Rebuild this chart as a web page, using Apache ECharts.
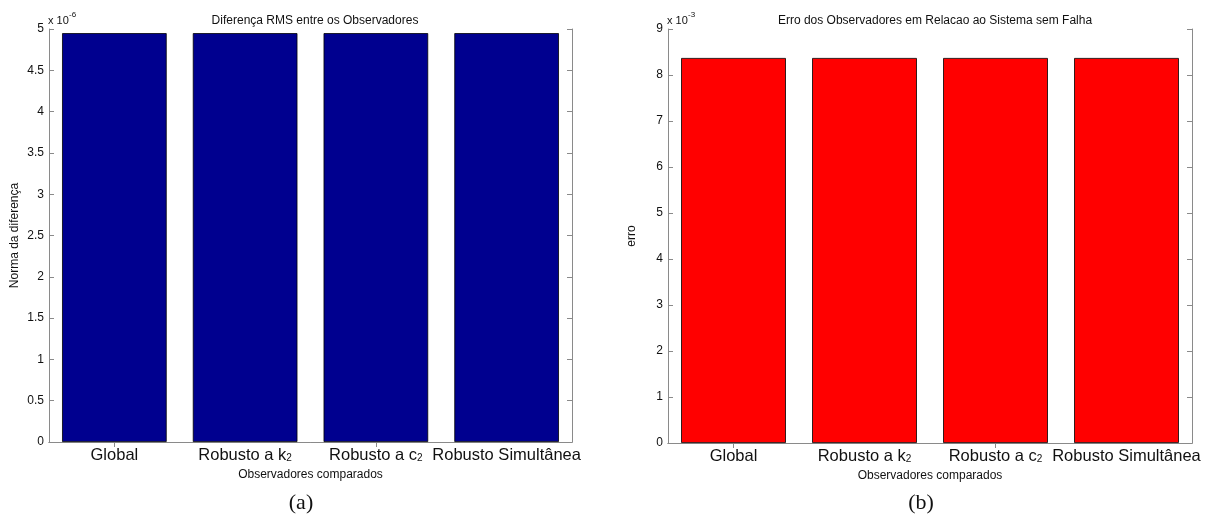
<!DOCTYPE html>
<html>
<head>
<meta charset="utf-8">
<script src="https://cdn.jsdelivr.net/npm/echarts@6/dist/echarts.min.js"></script>
<style>
html,body{margin:0;padding:0;background:#fff;}
#c{width:1216px;height:515px;}
</style>
</head>
<body>
<div id="c"></div>
<script>
// Categories (shared by both panels)
var categories = ['Global', 'Robusto a k2', 'Robusto a c2', 'Robusto Simultânea'];
// Panel (a): RMS difference, in units of 1e-6
var valuesA = [4.95, 4.95, 4.95, 4.95];
var yTicksA = {min: 0, max: 5, interval: 0.5};
// Panel (b): error, in units of 1e-3
var valuesB = [8.37, 8.37, 8.37, 8.37];
var yTicksB = {min: 0, max: 9, interval: 1};

var titleA = 'Diferença RMS entre os Observadores';
var titleB = 'Erro dos Observadores em Relacao ao Sistema sem Falha';
var yNameA = 'Norma da diferença';
var yNameB = 'erro';
var xName = 'Observadores comparados';
var expA = '-6';
var expB = '-3';

var FONT = 'Liberation Sans, Arial, sans-serif';
var AX = '#8a8a8a';

var chart = echarts.init(document.getElementById('c'), null, {renderer: 'canvas'});

function catFormatter(v) {
  var m = v.match(/^(.*\S)2$/);
  if (m) return '{n|' + m[1] + '}{s|2}';
  return '{n|' + v + '}';
}
var catRich = {
  n: {fontSize: 16.5, fontFamily: FONT, color: '#111', lineHeight: 18},
  s: {fontSize: 10, fontFamily: FONT, color: '#111', lineHeight: 18, padding: [7, 0, 0, 0]}
};

function xAxes(gi) {
  return [{
    type: 'category', gridIndex: gi, data: categories, position: 'bottom',
    boundaryGap: true,
    axisLine: {show: true, lineStyle: {color: AX, width: 1}},
    axisTick: {show: false},
    axisLabel: {formatter: catFormatter, rich: catRich, margin: 4, interval: 0},
    name: xName, nameLocation: 'middle', nameGap: 20,
    nameTextStyle: {fontSize: 12, fontFamily: FONT, color: '#111'},
    splitLine: {show: false}
  }, {
    type: 'category', gridIndex: gi, data: categories, position: 'top',
    boundaryGap: true,
    axisLine: {show: true, lineStyle: {color: AX, width: 1}},
    axisTick: {show: true, inside: true, length: 5, alignWithLabel: true, lineStyle: {color: AX}},
    axisLabel: {show: false},
    splitLine: {show: false}
  }];
}
function yAxes(gi, t, name, gap) {
  return [{
    type: 'value', gridIndex: gi, position: 'left',
    min: t.min, max: t.max, interval: t.interval,
    axisLine: {show: true, lineStyle: {color: AX, width: 1}},
    axisTick: {show: true, inside: true, length: 5, lineStyle: {color: AX}},
    axisLabel: {fontSize: 12, fontFamily: FONT, color: '#111', margin: 5,
      formatter: function (v) { return String(Math.round(v * 10) / 10); }},
    splitLine: {show: false},
    name: name, nameLocation: 'middle', nameGap: gap, nameRotate: 90,
    nameTextStyle: {fontSize: 12, fontFamily: FONT, color: '#111'}
  }, {
    type: 'value', gridIndex: gi, position: 'right',
    min: t.min, max: t.max, interval: t.interval,
    axisLine: {show: true, lineStyle: {color: AX, width: 1}},
    axisTick: {show: true, inside: true, length: 5, lineStyle: {color: AX}},
    axisLabel: {show: false},
    splitLine: {show: false}
  }];
}

var xa = xAxes(0), xb = xAxes(1);
var ya = yAxes(0, yTicksA, yNameA, 28), yb = yAxes(1, yTicksB, yNameB, 30);

chart.setOption({
  animation: false,
  backgroundColor: '#fff',
  title: [
    {text: titleA, left: 310, top: 10, textAlign: 'center',
     textStyle: {fontSize: 12, fontWeight: 'normal', fontFamily: FONT, color: '#111'}},
    {text: titleB, left: 930, top: 10, textAlign: 'center',
     textStyle: {fontSize: 12, fontWeight: 'normal', fontFamily: FONT, color: '#111'}}
  ],
  grid: [
    {left: 49, top: 29, width: 523, height: 413},
    {left: 668, top: 29, width: 524, height: 414}
  ],
  xAxis: [xa[0], xa[1], xb[0], xb[1]],
  yAxis: [ya[0], ya[1], yb[0], yb[1]],
  series: [
    {type: 'bar', xAxisIndex: 0, yAxisIndex: 0, data: valuesA, barWidth: '80%',
     itemStyle: {color: '#00008F', borderColor: '#000', borderWidth: 0.8}},
    {type: 'bar', xAxisIndex: 2, yAxisIndex: 2, data: valuesB, barWidth: '80%',
     itemStyle: {color: '#FF0000', borderColor: '#000', borderWidth: 0.8}}
  ],
  graphic: [
    {type: 'text', x: 48, y: 15, style: {text: 'x 10', fontSize: 11, fontFamily: FONT, fill: '#111'}},
    {type: 'text', x: 69, y: 11, style: {text: expA, fontSize: 8, fontFamily: FONT, fill: '#111'}},
    {type: 'text', x: 667, y: 15, style: {text: 'x 10', fontSize: 11, fontFamily: FONT, fill: '#111'}},
    {type: 'text', x: 688, y: 11, style: {text: expB, fontSize: 8, fontFamily: FONT, fill: '#111'}},
    {type: 'text', x: 301, y: 503, style: {text: '(a)', fontSize: 22, fontFamily: 'Liberation Serif, Times New Roman, serif',
      fill: '#111', align: 'center', verticalAlign: 'middle'}},
    {type: 'text', x: 921, y: 503, style: {text: '(b)', fontSize: 22, fontFamily: 'Liberation Serif, Times New Roman, serif',
      fill: '#111', align: 'center', verticalAlign: 'middle'}}
  ]
});
</script>
</body>
</html>
